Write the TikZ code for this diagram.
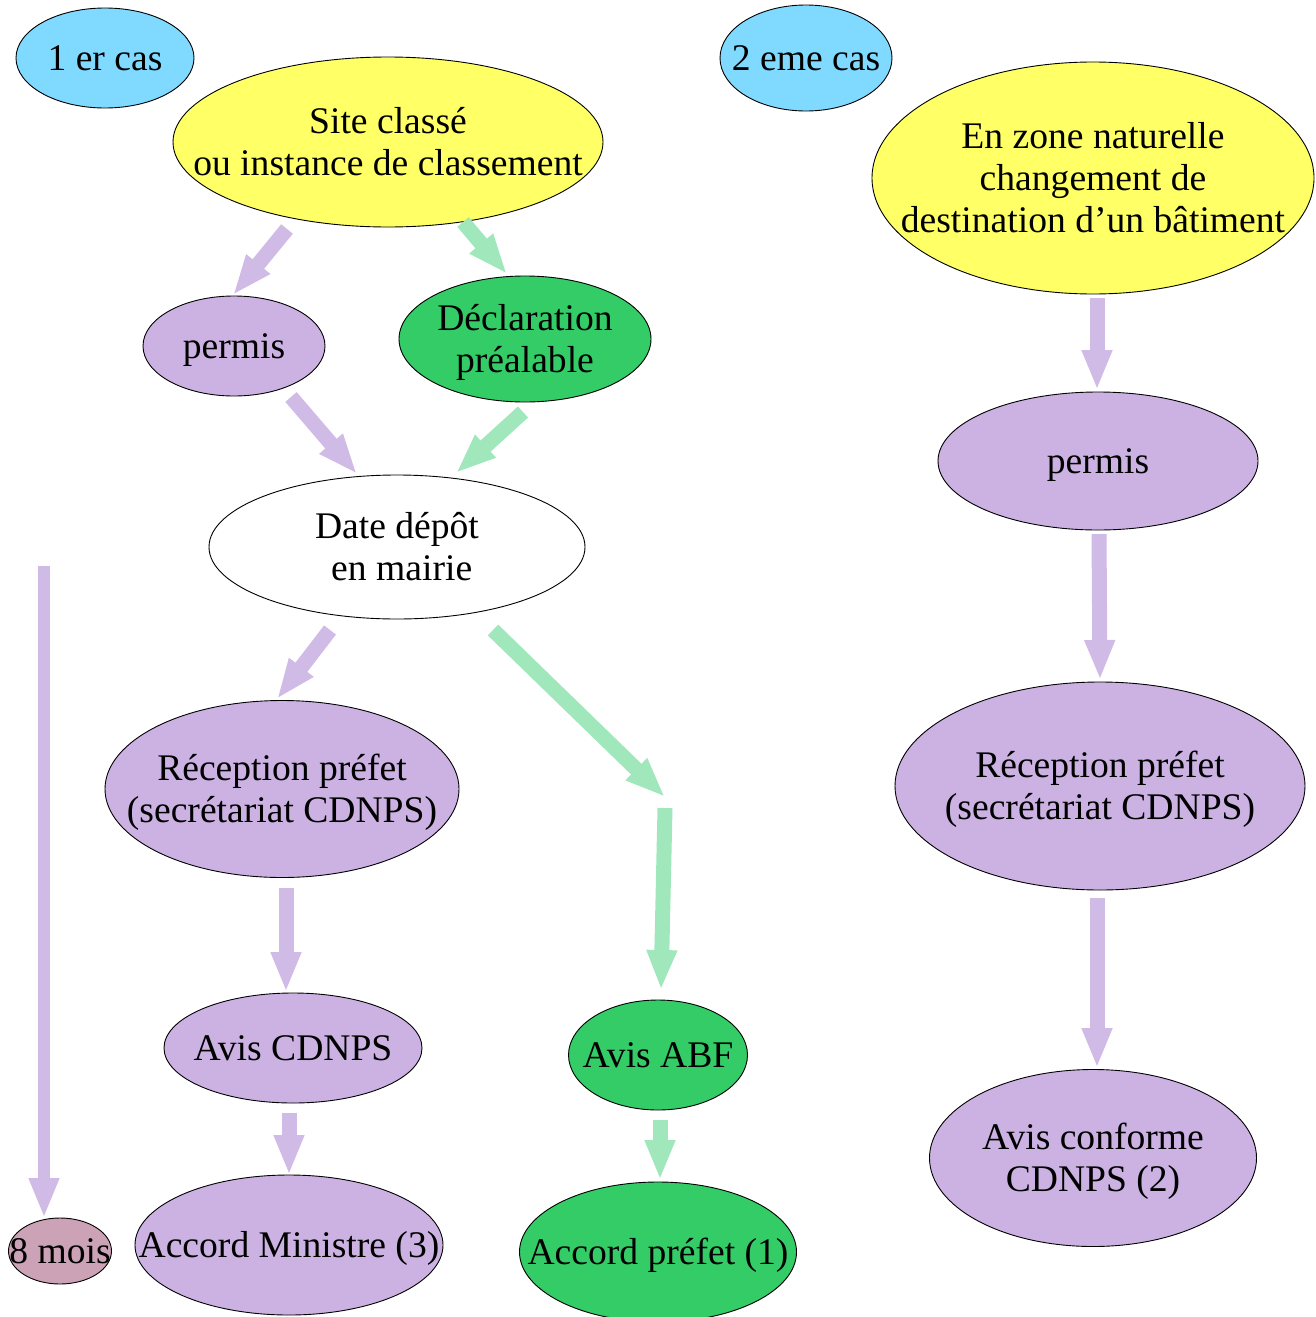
\documentclass[tikz,border=0pt]{standalone}
\usepackage{fontspec}
\setmainfont{Liberation Serif}
\usetikzlibrary{shapes.geometric,arrows.meta}
\definecolor{cBlue}{RGB}{128,218,255}
\definecolor{cYellow}{RGB}{255,255,102}
\definecolor{cPurple}{RGB}{204,178,227}
\definecolor{cGreen}{RGB}{51,204,102}
\definecolor{cMauve}{RGB}{204,162,182}
\definecolor{aPurple}{RGB}{208,186,230}
\definecolor{aGreen}{RGB}{160,232,188}
\newcommand{\ctext}[1]{\makebox[0pt]{\raisebox{-4pt}[\height][\depth]{\begin{tabular}{@{}c@{}}#1\end{tabular}}}}
\tikzset{
  el/.style={ellipse, draw=black, line width=0.9pt, inner sep=0pt, outer sep=0pt,
    font=\fontsize{37.6}{42}\selectfont},
  parr/.style={draw=aPurple, line width=15pt, -{Triangle[length=40pt,width=28pt]}},
  garr/.style={draw=aGreen, line width=15pt, -{Triangle[length=40pt,width=28pt]}},
}
\begin{document}
\begin{tikzpicture}[x=1pt,y=-1pt]
\useasboundingbox (0,0) rectangle (1315,1317);
% nodes
\node[el, fill=cBlue, minimum width=178pt, minimum height=100pt] (cas1) at (105,58) {\ctext{1 er cas}};
\node[el, fill=cYellow, minimum width=430pt, minimum height=170pt] (site) at (388,142) {\ctext{Site classé\\ou instance de classement}};
\node[el, fill=cBlue, minimum width=172pt, minimum height=106pt] (cas2) at (806,58) {\ctext{2 eme cas}};
\node[el, fill=cYellow, minimum width=442pt, minimum height=232pt] (zone) at (1093,178) {\ctext{En zone naturelle\\changement de\\destination d’un bâtiment}};
\node[el, fill=cPurple, minimum width=182pt, minimum height=100pt] (permisL) at (234,346) {\ctext{permis}};
\node[el, fill=cGreen, minimum width=252pt, minimum height=126pt] (decl) at (525,339) {\ctext{Déclaration\\préalable}};
\node[el, fill=cPurple, minimum width=320pt, minimum height=138pt] (permisR) at (1098,461) {\ctext{permis}};
\node[el, fill=white, minimum width=376pt, minimum height=144pt] (date) at (397,547) {\ctext{Date dépôt\\\ en mairie}};
\node[el, fill=cPurple, minimum width=354pt, minimum height=177pt] (recL) at (282,789) {\ctext{Réception préfet\\(secrétariat CDNPS)}};
\node[el, fill=cPurple, minimum width=410pt, minimum height=208pt] (recR) at (1100,786) {\ctext{Réception préfet\\(secrétariat CDNPS)}};
\node[el, fill=cPurple, minimum width=258pt, minimum height=110pt] (avisC) at (293,1048) {\ctext{Avis CDNPS}};
\node[el, fill=cGreen, minimum width=179pt, minimum height=110pt] (avisA) at (658,1055) {\ctext{Avis ABF}};
\node[el, fill=cPurple, minimum width=327pt, minimum height=177pt] (avisConf) at (1093,1158) {\ctext{Avis conforme\\CDNPS (2)}};
\node[el, fill=cMauve, minimum width=103pt, minimum height=66pt] (mois) at (60,1251) {\ctext{8 mois}};
\node[el, fill=cPurple, minimum width=308pt, minimum height=140pt] (minis) at (289,1245) {\ctext{Accord Ministre (3)}};
\node[el, fill=cGreen, minimum width=277pt, minimum height=140pt] (pref) at (658,1252) {\ctext{Accord préfet (1)}};
% arrow end points
\coordinate (a1s) at (287,229);  \coordinate (a1e) at (233,295);
\coordinate (a2s) at (463,222);  \coordinate (a2e) at (507,274);
\coordinate (a3s) at (291,397);  \coordinate (a3e) at (357,474);
\coordinate (a4s) at (523,412);  \coordinate (a4e) at (456,473);
\coordinate (a5s) at (330,630);  \coordinate (a5e) at (277,699);
\coordinate (a6s) at (493,630);  \coordinate (a6e) at (665,797);
\coordinate (a7s) at (665,808);  \coordinate (a7e) at (661,990);
\coordinate (a8s) at (286,888);  \coordinate (a8e) at (286,992);
\coordinate (a9s) at (289,1113); \coordinate (a9e) at (289,1175);
\coordinate (a10s) at (660,1120); \coordinate (a10e) at (660,1180);
\coordinate (a11s) at (44,566);  \coordinate (a11e) at (44,1218);
\coordinate (a12s) at (1097,298); \coordinate (a12e) at (1097,390);
\coordinate (a13s) at (1099,534); \coordinate (a13e) at (1100,680);
\coordinate (a14s) at (1097,898); \coordinate (a14e) at (1097,1068);
% arrows
\draw[parr] (a1s) -- (a1e);
\draw[garr] (a2s) -- (a2e);
\draw[parr] (a3s) -- (a3e);
\draw[garr] (a4s) -- (a4e);
\draw[parr] (a5s) -- (a5e);
\draw[garr] (a6s) -- (a6e);
\draw[garr] (a7s) -- (a7e);
\draw[parr] (a8s) -- (a8e);
\draw[parr] (a9s) -- (a9e);
\draw[garr] (a10s) -- (a10e);
\draw[parr, line width=12pt] (a11s) -- (a11e);
\draw[parr] (a12s) -- (a12e);
\draw[parr] (a13s) -- (a13e);
\draw[parr] (a14s) -- (a14e);
\end{tikzpicture}
\end{document}
